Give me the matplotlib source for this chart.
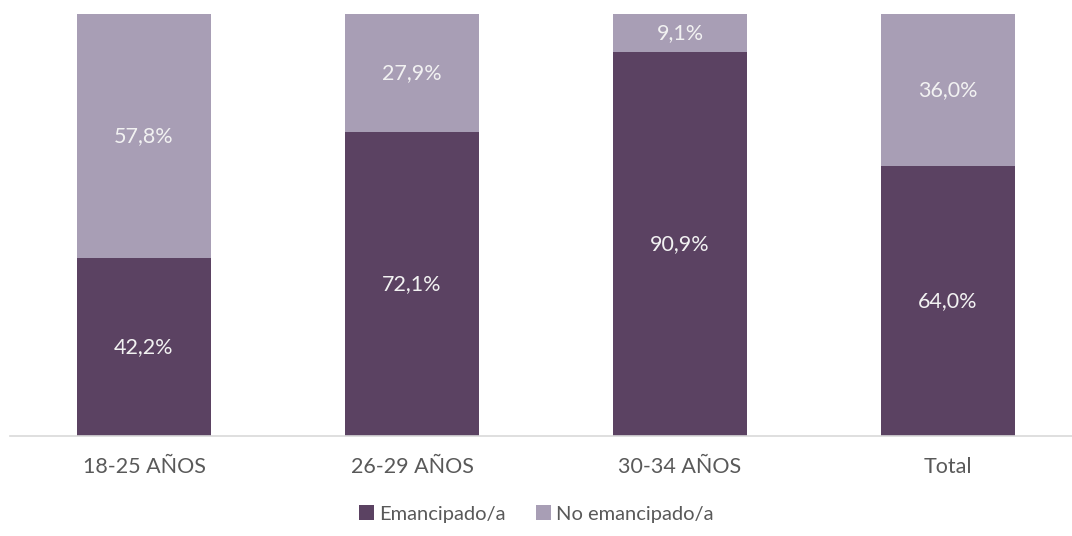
import matplotlib.pyplot as plt

categories = ["18-25 AÑOS", "26-29 AÑOS", "30-34 AÑOS", "Total"]
emancipado = [42.2, 72.1, 90.9, 64.0]
no_emancipado = [57.8, 27.9, 9.1, 36.0]

plt.rcParams['font.family'] = ['Lato', 'DejaVu Sans']

dark = '#5B4262'
light = '#A89EB5'
txt = '#595959'
fs = 15.5

fig = plt.figure(figsize=(10.72, 5.36), dpi=100)
ax = fig.add_axes([10 / 1072, 100 / 536, 1062 / 1072, 422 / 536])

x = range(len(categories))
ax.bar(x, emancipado, width=0.5, color=dark, label='Emancipado/a')
ax.bar(x, no_emancipado, width=0.5, bottom=emancipado, color=light,
       label='No emancipado/a')

for i in x:
    e, n = emancipado[i], no_emancipado[i]
    ax.text(i, e / 2, f"{e:.1f}%".replace('.', ','), ha='center', va='center',
            color='#F2F2F2', fontsize=fs)
    ax.text(i, e + n / 2, f"{n:.1f}%".replace('.', ','), ha='center', va='center',
            color='#F2F2F2', fontsize=fs)

ax.set_xlim(-0.5, 3.5 - 10 / 268)
ax.set_ylim(0, 100)
ax.set_xticks(list(x))
ax.set_xticklabels(categories, fontsize=fs, color=txt)
ax.tick_params(axis='x', length=0, pad=15)
ax.set_yticks([])
for s in ['top', 'right', 'left']:
    ax.spines[s].set_visible(False)
ax.spines['bottom'].set_color('#D9D9D9')
ax.spines['bottom'].set_linewidth(1.2)

fig.legend(loc='center', bbox_to_anchor=(0.5, 22 / 536), ncol=2, frameon=False,
           fontsize=14.5, labelcolor=txt, handlelength=0.75, handleheight=0.75,
           handletextpad=0.25, columnspacing=1.5)

fig.savefig('out.png', dpi=100)
